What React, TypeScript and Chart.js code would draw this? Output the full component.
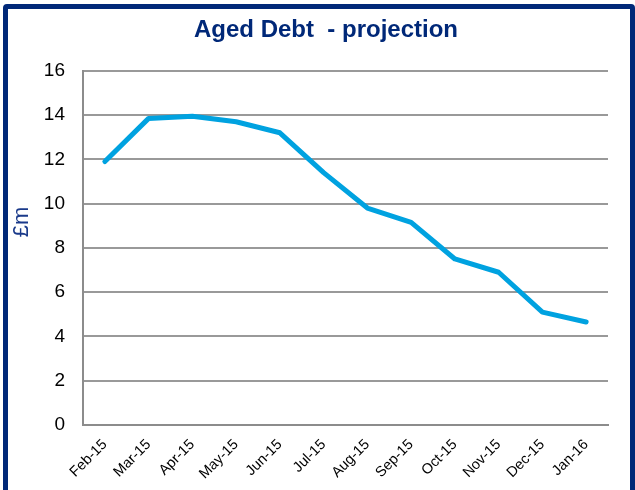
import React, { useEffect, useRef } from "react";
import { Chart, registerables } from "chart.js";

Chart.register(...registerables);

const categories = ["Feb-15", "Mar-15", "Apr-15", "May-15", "Jun-15", "Jul-15", "Aug-15", "Sep-15", "Oct-15", "Nov-15", "Dec-15", "Jan-16"];
const agedDebt = [11.9, 13.85, 13.95, 13.7, 13.2, 11.4, 9.8, 9.15, 7.5, 6.9, 5.1, 4.65];
const yTicks = { min: 0, max: 16, step: 2 };
const yAxisTitle = "£m";

const NAVY = "#002878";
const FONT = "'Liberation Sans', Arial, sans-serif";

const shiftTitle = {
  id: "shiftTitle",
  afterLayout(chart: any) {
    const t = chart.titleBlock;
    if (t) {
      t.left = 44;
      t.right = 608;
      t.width = t.right - t.left;
    }
  },
};

const yTitlePlugin = {
  id: "yTitlePlugin",
  afterDraw(chart: any) {
    const ctx = chart.ctx;
    const area = chart.chartArea;
    ctx.save();
    ctx.translate(22, (area.top + area.bottom) / 2 - 26);
    ctx.rotate(-Math.PI / 2);
    ctx.fillStyle = "#1a3a8a";
    ctx.font = `22px ${FONT}`;
    ctx.textAlign = "center";
    ctx.textBaseline = "middle";
    ctx.fillText(yAxisTitle, 0, 0);
    ctx.restore();
  },
};

export default function App() {
  const ref = useRef<HTMLCanvasElement>(null);
  useEffect(() => {
    document.body.style.margin = "0";
    const chart = new Chart(ref.current!, {
      type: "line",
      data: {
        labels: categories,
        datasets: [
          {
            label: "Aged Debt",
            data: agedDebt,
            borderColor: "#00a2e0",
            backgroundColor: "#00a2e0",
            borderWidth: 5,
            pointRadius: 0,
            tension: 0,
            borderCapStyle: "round",
            borderJoinStyle: "round",
          },
        ],
      },
      plugins: [shiftTitle, yTitlePlugin],
      options: {
        animation: false,
        responsive: false,
        maintainAspectRatio: false,
        layout: { padding: { left: 0, right: 27, top: 0, bottom: 0 } },
        plugins: {
          legend: { display: false },
          tooltip: { enabled: false },
          title: {
            display: true,
            text: "Aged Debt  - projection",
            color: NAVY,
            font: { family: FONT, size: 24, weight: "bold" },
            padding: { top: 16, bottom: 26 },
          },
        },
        scales: {
          x: {
            offset: true,
            grid: { display: false, drawTicks: false },
            border: { display: true, color: "#8c8c8c", width: 2 },
            ticks: {
              color: "#000",
              font: { family: FONT, size: 14.5 },
              maxRotation: 45,
              minRotation: 45,
              autoSkip: false,
              padding: 11,
            },
            afterFit: (s: any) => {
              s.height = 65;
            },
          },
          y: {
            min: yTicks.min,
            max: yTicks.max,
            grid: { color: "#999", lineWidth: 2, drawTicks: false },
            border: { display: true, color: "#8c8c8c", width: 2 },
            ticks: {
              stepSize: yTicks.step,
              color: "#000",
              font: { family: FONT, size: 19 },
              padding: 18,
            },
            afterFit: (s: any) => {
              s.width = 83;
            },
          },
        },
      },
    });
    return () => chart.destroy();
  }, []);
  return (
    <div style={{ position: "relative", width: 635, height: 490, overflow: "hidden", background: "#fff" }}>
      <div
        style={{
          position: "absolute",
          left: 3,
          top: 4,
          width: 622,
          height: 500,
          border: `5px solid ${NAVY}`,
          borderRadius: 4,
        }}
      />
      <canvas ref={ref} width={635} height={490} style={{ position: "absolute", left: 0, top: 0 }} />
    </div>
  );
}
